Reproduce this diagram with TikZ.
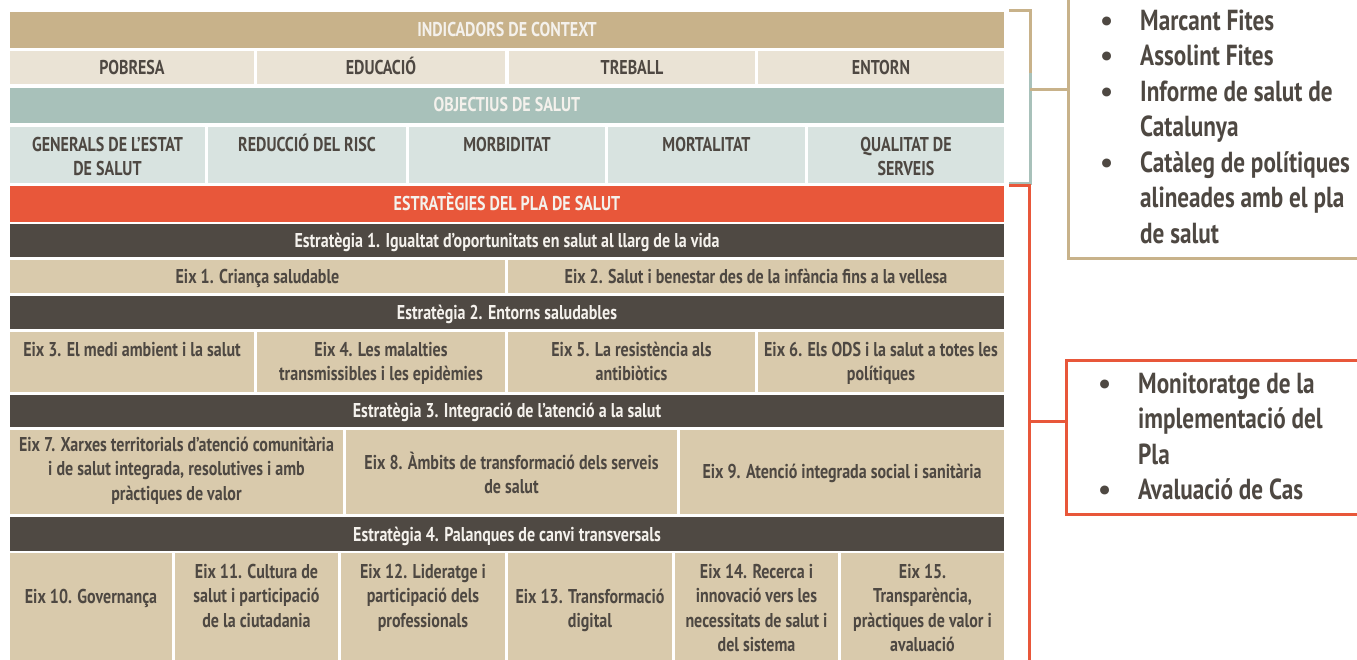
\documentclass[tikz,border=0pt]{standalone}
\usepackage{fontspec}
\newfontfamily\cond{PT Sans}[FakeStretch=0.80]
\newfontfamily\plainf{PT Sans}
\usetikzlibrary{calc}
\definecolor{hdrtan}{HTML}{C8B28A}
\definecolor{lbeige}{HTML}{EAE3D5}
\definecolor{hdrteal}{HTML}{A8C1BA}
\definecolor{lteal}{HTML}{D8E3E0}
\definecolor{orng}{HTML}{E8573A}
\definecolor{dark}{HTML}{4F4943}
\definecolor{tancell}{HTML}{D9CAAC}
\definecolor{ink}{HTML}{4E4842}
\definecolor{wink}{HTML}{F4F1EC}
\newcommand\sr{\rule{0pt}{18.5pt}}
\newcommand\cellfill[5]{\fill[#1] (#2,#3) rectangle (#4,#5);}
\newcommand\bul{{\plainf\textbullet}}
\tikzset{
  x=1pt,y=-1pt,
  txt/.style={font=\cond\bfseries\fontsize{20}{24.5}\selectfont, text=ink, align=center, inner sep=0pt, anchor=north},
  wtxt/.style={txt, text=wink},
  big/.style={font=\cond\bfseries\fontsize{29}{35.5}\selectfont, text=ink, inner sep=0pt, anchor=north west},
  brk/.style={line width=3pt},
  boxst/.style={draw, line width=3pt, anchor=north west, inner sep=0pt},
}
\begin{document}
\begin{tikzpicture}
\useasboundingbox[fill=white] (0,0) rectangle (1357,659);
% ---- table backgrounds
\cellfill{hdrtan}{10}{12}{1004}{48}
\cellfill{lbeige}{10}{51}{254}{84}
\cellfill{lbeige}{257}{51}{505}{84}
\cellfill{lbeige}{509}{51}{755}{84}
\cellfill{lbeige}{758}{51}{1004}{84}
\cellfill{hdrteal}{10}{88}{1004}{123}
\cellfill{lteal}{10}{127}{205}{183}
\cellfill{lteal}{208}{127}{406}{183}
\cellfill{lteal}{409}{127}{605}{183}
\cellfill{lteal}{608}{127}{805}{183}
\cellfill{lteal}{808}{127}{1004}{183}
\cellfill{orng}{10}{186}{1004}{222}
\cellfill{dark}{10}{224}{1004}{257}
\cellfill{tancell}{10}{260}{505}{293}
\cellfill{tancell}{508}{260}{1004}{293}
\cellfill{dark}{10}{296}{1004}{329}
\cellfill{tancell}{10}{332}{254}{392}
\cellfill{tancell}{257}{332}{505}{392}
\cellfill{tancell}{508}{332}{755}{392}
\cellfill{tancell}{758}{332}{1004}{392}
\cellfill{dark}{10}{395}{1004}{427}
\cellfill{tancell}{10}{430}{343}{514}
\cellfill{tancell}{346}{430}{677}{514}
\cellfill{tancell}{680}{430}{1004}{514}
\cellfill{dark}{10}{517}{1004}{551}
\cellfill{tancell}{10}{553}{172}{665}
\cellfill{tancell}{175}{553}{338}{665}
\cellfill{tancell}{341}{553}{505}{665}
\cellfill{tancell}{508}{553}{672}{665}
\cellfill{tancell}{675}{553}{838}{665}
\cellfill{tancell}{841}{553}{1004}{665}
% ---- table texts
\node[wtxt] (h1) at (507,17.5) {\sr INDICADORS DE CONTEXT};
\node[txt] (p1) at (132,55.5) {\sr POBRESA};
\node[txt] (p2) at (381,55.5) {\sr EDUCACIÓ};
\node[txt] (p3) at (632,55.5) {\sr TREBALL};
\node[txt] (p4) at (881,55.5) {\sr ENTORN};
\node[wtxt] (h2) at (507,92.5) {\sr OBJECTIUS DE SALUT};
\node[txt] (o1) at (107.5,132.5) {\sr GENERALS DE L’ESTAT\\DE SALUT};
\node[txt] (o2) at (307,132.5) {\sr REDUCCIÓ DEL RISC};
\node[txt] (o3) at (507,132.5) {\sr MORBIDITAT};
\node[txt] (o4) at (706.5,132.5) {\sr MORTALITAT};
\node[txt] (o5) at (906,132.5) {\sr QUALITAT DE\\SERVEIS};
\node[wtxt] (h3) at (507,191.5) {\sr ESTRATÈGIES DEL PLA DE SALUT};
\node[wtxt] (s1) at (507,228.5) {\sr Estratègia 1. Igualtat d’oportunitats en salut al llarg de la vida};
\node[txt] (e1) at (257.5,264.5) {\sr Eix 1. Criança saludable};
\node[txt] (e2) at (756,264.5) {\sr Eix 2. Salut i benestar des de la infància fins a la vellesa};
\node[wtxt] (s2) at (507,300.5) {\sr Estratègia 2. Entorns saludables};
\node[txt] (e3) at (132,337.5) {\sr Eix 3. El medi ambient i la salut};
\node[txt] (e4) at (381,337.5) {\sr Eix 4. Les malalties\\transmissibles i les epidèmies};
\node[txt] (e5) at (631.5,337.5) {\sr Eix 5. La resistència als\\antibiòtics};
\node[txt] (e6) at (881,337.5) {\sr Eix 6. Els ODS i la salut a totes les\\polítiques};
\node[wtxt] (s3) at (507,398.5) {\sr Estratègia 3. Integració de l’atenció a la salut};
\node[txt] (e7) at (176.5,432.5) {\sr Eix 7. Xarxes territorials d’atenció comunitària\\i de salut integrada, resolutives i amb\\pràctiques de valor};
\node[txt] (e8) at (511.5,450.5) {\sr Eix 8. Àmbits de transformació dels serveis\\de salut};
\node[txt] (e9) at (842,459.5) {\sr Eix 9. Atenció integrada social i sanitària};
\node[wtxt] (s4) at (507,522.5) {\sr Estratègia 4. Palanques de canvi transversals};
\node[txt] (e10) at (91,584.5) {\sr Eix 10. Governança};
\node[txt] (e11) at (256.5,559.5) {\sr Eix 11. Cultura de\\salut i participació\\de la ciutadania};
\node[txt] (e12) at (423,559.5) {\sr Eix 12. Lideratge i\\participació dels\\professionals};
\node[txt] (e13) at (590,584.5) {\sr Eix 13. Transformació\\digital};
\node[txt] (e14) at (756.5,559.5) {\sr Eix 14. Recerca i\\innovació vers les\\necessitats de salut i\\del sistema};
\node[txt] (e15) at (922.5,559.5) {\sr Eix 15.\\Transparència,\\pràctiques de valor i\\avaluació};
% ---- right boxes
\node[boxst, draw=hdrtan, minimum width=330pt, minimum height=267pt] (tbox) at (1067,-10) {};
\node[boxst, draw=orng, minimum width=330pt, minimum height=154pt] (obox) at (1065,359) {};
\node[big] (tlist) at (1100,5.2) {\begin{tabular}{@{}p{40pt}@{}l@{}}
\bul & Marcant Fites\\
\bul & Assolint Fites\\
\bul & Informe de salut de\\
 & Catalunya\\
\bul & Catàleg de polítiques\\
 & alineades amb el pla\\
 & de salut
\end{tabular}};
\node[big] (olist) at (1098,368.2) {\begin{tabular}{@{}p{40pt}@{}l@{}}
\bul & Monitoratge de la\\
 & implementació del\\
 & Pla\\
\bul & Avaluació de Cas
\end{tabular}};
% ---- brackets
\coordinate (tA) at (1009,10);
\coordinate (tB) at (1030,10);
\coordinate (tC) at (1030,73);
\coordinate (tJ) at (1030,89);
\coordinate (qA) at (1030,183);
\coordinate (qB) at (1009,183);
\coordinate (rA) at (1009,185.5);
\coordinate (rB) at (1029,185.5);
\coordinate (rC) at (1029,670);
\coordinate (rJ) at (1029,421);
\draw[brk, draw=hdrteal] (tC) -- (qA) -- (qB);
\draw[brk, draw=hdrtan] (tA) -- (tB) -- (tC);
\draw[brk, draw=hdrtan] (tJ) -- (tJ -| tbox.west);
\draw[brk, draw=orng] (rA) -- (rB) -- (rC);
\draw[brk, draw=orng] (rJ) -- (rJ -| obox.west);
\end{tikzpicture}
\end{document}
